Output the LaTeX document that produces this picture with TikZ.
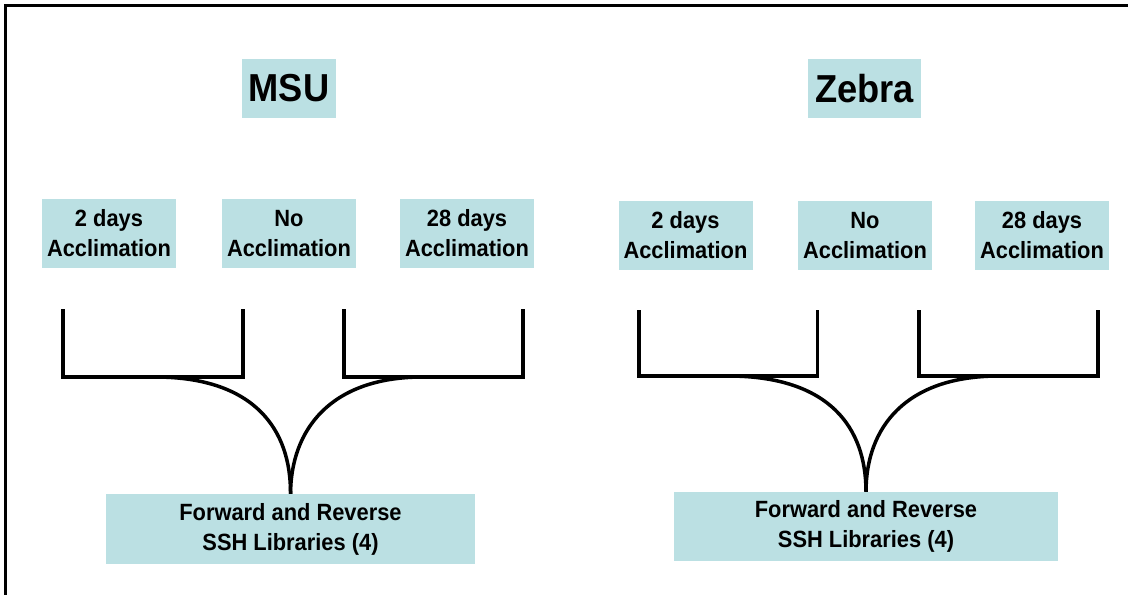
\documentclass[tikz,border=0pt]{standalone}
\usepackage{fontspec}
\newfontfamily\labfont[FakeStretch=0.93]{Liberation Sans}
\definecolor{boxblue}{HTML}{BBE0E3}
\begin{document}
\begin{tikzpicture}[x=1bp,y=-1bp,
  cell/.style={fill=boxblue, draw=none, inner sep=0pt, align=center,
    font=\labfont\bfseries\fontsize{23.5bp}{30bp}\selectfont},
  titlebox/.style={fill=boxblue, draw=none, inner sep=0pt, align=center,
    font=\labfont\bfseries\fontsize{39bp}{44bp}\selectfont},
  bracket/.style={line width=3.5bp, line join=miter},
  branch/.style={line width=3.5bp}]
\useasboundingbox (0,0) rectangle (1128,595);
% frame (top and left edges only)
\draw[line width=2.5bp] (5.5,595) -- (5.5,5.5) -- (1128,5.5);

% ---- MSU ----
\node[titlebox, minimum width=94bp, minimum height=59bp] (msu) at (289,88.5) {MSU};
\node[cell, minimum width=134bp, minimum height=69bp] (m2) at (109,233.5) {2 days\\Acclimation};
\node[cell, minimum width=134bp, minimum height=69bp] (m0) at (289,233.5) {No\\Acclimation};
\node[cell, minimum width=134bp, minimum height=69bp] (m28) at (467,233.5) {28 days\\Acclimation};
\node[cell, minimum width=369bp, minimum height=70bp] (mlib) at (290.5,529) {Forward and Reverse\\SSH Libraries (4)};

\coordinate (mla) at (63,309);
\coordinate (mlb) at (63,377);
\coordinate (mlc) at (243,377);
\coordinate (mld) at (243,309);
\coordinate (mra) at (344,309);
\coordinate (mrb) at (344,377);
\coordinate (mrc) at (523,377);
\coordinate (mrd) at (523,309);
\coordinate (mls) at (155,377);
\coordinate (mrs) at (423,377);
\draw[bracket] (mla) -- (mlb) -- (mlc) -- (mld);
\draw[bracket] (mra) -- (mrb) -- (mrc) -- (mrd);
\draw[branch] (mls) .. controls (255,377) and (291,430) .. (mlib.north);
\draw[branch] (mrs) .. controls (330,377) and (291,430) .. (mlib.north);

% ---- Zebra ----
\node[titlebox, minimum width=113bp, minimum height=59bp] (zeb) at (864.5,88.5) {Zebra};
\node[cell, minimum width=134bp, minimum height=69bp] (z2) at (685.5,235.5) {2 days\\Acclimation};
\node[cell, minimum width=134bp, minimum height=69bp] (z0) at (865,235.5) {No\\Acclimation};
\node[cell, minimum width=134bp, minimum height=69bp] (z28) at (1042,235.5) {28 days\\Acclimation};
\node[cell, minimum width=384bp, minimum height=69bp] (zlib) at (866,526.5) {Forward and Reverse\\SSH Libraries (4)};

\coordinate (zla) at (639,310);
\coordinate (zlb) at (639,376);
\coordinate (zlc) at (817.5,376);
\coordinate (zld) at (817.5,310);
\coordinate (zra) at (919,310);
\coordinate (zrb) at (919,376);
\coordinate (zrc) at (1098,376);
\coordinate (zrd) at (1098,310);
\coordinate (zls) at (728,376);
\coordinate (zrs) at (999,376);
\draw[bracket] (zla) -- (zlb) -- (zlc) -- (zld);
\draw[bracket] (zra) -- (zrb) -- (zrc) -- (zrd);
\draw[branch] (zls) .. controls (830,376) and (866,428) .. (zlib.north);
\draw[branch] (zrs) .. controls (905,376) and (866,428) .. (zlib.north);
\end{tikzpicture}
\end{document}
